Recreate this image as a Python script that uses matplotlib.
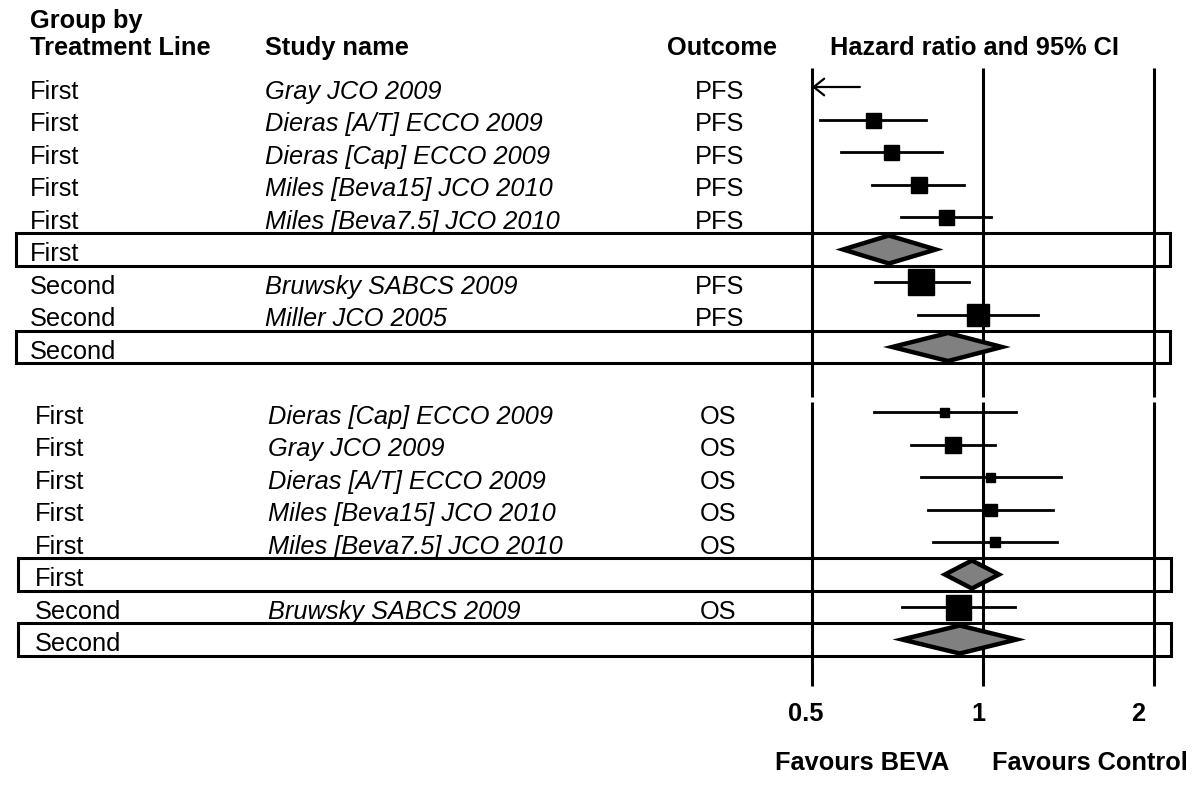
import matplotlib

matplotlib.use("Agg")
import matplotlib.pyplot as plt
from matplotlib.patches import Polygon, Rectangle
from matplotlib.transforms import blended_transform_factory

plt.rcParams["font.family"] = ["Liberation Sans", "DejaVu Sans"]

# one entry per row, top panel (PFS) then bottom panel (OS)
line = ["First", "First", "First", "First", "First", "First", "Second", "Second", "Second",
        "First", "First", "First", "First", "First", "First", "Second", "Second"]
study = ["Gray JCO 2009", "Dieras [A/T] ECCO 2009", "Dieras [Cap] ECCO 2009",
         "Miles [Beva15] JCO 2010", "Miles [Beva7.5] JCO 2010", "",
         "Bruwsky SABCS 2009", "Miller JCO 2005", "",
         "Dieras [Cap] ECCO 2009", "Gray JCO 2009", "Dieras [A/T] ECCO 2009",
         "Miles [Beva15] JCO 2010", "Miles [Beva7.5] JCO 2010", "",
         "Bruwsky SABCS 2009", ""]
outcome = ["PFS"] * 9 + ["OS"] * 8
hr = [0.46, 0.64, 0.69, 0.77, 0.86, 0.683, 0.778, 0.98, 0.868,
      0.854, 0.885, 1.03, 1.035, 1.05, 0.956, 0.904, 0.91]
lo = [0.33, 0.516, 0.562, 0.638, 0.717, 0.567, 0.646, 0.769, 0.692,
      0.643, 0.747, 0.778, 0.80, 0.816, 0.857, 0.72, 0.72]
hi = [0.607, 0.794, 0.847, 0.926, 1.033, 0.826, 0.944, 1.25, 1.08,
      1.143, 1.05, 1.37, 1.33, 1.35, 1.067, 1.138, 1.146]
weight = [15, 15, 15, 16, 15, 0, 26, 23, 0,
          9, 16, 9, 12, 10, 0, 25, 0]
summary = [False] * 5 + [True] + [False] * 2 + [True] + [False] * 5 + [True, False, True]

ticks = [0.5, 1, 2]
tick_labels = ["0.5", "1", "2"]

W, H = 1200, 791
PITCH = 32.5
X_HALF = 812
OCT = 171

fig = plt.figure(figsize=(12, 7.91), dpi=100)
ax = fig.add_axes([0, 0, 1, 1])
ax.set_xscale("log", base=2)
ax.set_xlim(0.5 * 2 ** (-X_HALF / OCT), 0.5 * 2 ** ((W - X_HALF) / OCT))
ax.set_ylim((H - 87) / PITCH, -87 / PITCH)
ax.axis("off")

fx = blended_transform_factory(fig.transFigure, ax.transData)
dx = blended_transform_factory(ax.transData, fig.transFigure)


def py(p):
    return (p - 87) / PITCH


# reference lines, one piece per panel
for y0, y1 in [(68, 397), (402, 686)]:
    ax.vlines(ticks, py(y0), py(y1), color="black", lw=2.2)

fs = 18.3
for i in range(len(line)):
    bottom = outcome[i] == "OS"
    y = i + (1 if bottom else 0)
    left = 35 if bottom else 30
    ax.text(left / W, y + 0.36, line[i], transform=fx, fontsize=fs, va="baseline")
    if study[i]:
        ax.text((268 if bottom else 265) / W, y + 0.36, study[i], transform=fx,
                fontsize=fs, style="italic", va="baseline")
        ax.text((718 if bottom else 720) / W, y + 0.36, outcome[i], transform=fx,
                fontsize=fs, ha="center", va="baseline")
    if summary[i]:
        x0 = 18 if bottom else 16
        x1 = 1171 if bottom else 1170
        ax.add_patch(Rectangle((x0 / W, y - 0.5), (x1 - x0) / W, 1.0, transform=fx,
                               fill=False, lw=2.2, ec="black", clip_on=False))
        h = 14 / PITCH
        ax.add_patch(Polygon([(lo[i], y), (hr[i], y - h), (hi[i], y), (hr[i], y + h)],
                             closed=True, fc="#808080", ec="black", lw=3.2, zorder=3))
    elif lo[i] < 0.5:
        ax.annotate("", xy=(0.5, y), xytext=(hi[i], y),
                    arrowprops=dict(arrowstyle="->,head_length=0.75,head_width=0.6",
                                    lw=1.6, color="black", shrinkA=0, shrinkB=0))
    else:
        ax.plot([lo[i], hi[i]], [y, y], color="black", lw=2.0, zorder=3)
        ax.plot(hr[i], y, marker="s", ms=weight[i] * 0.72, color="black", zorder=4)

hdr = dict(fontsize=fs, fontweight="bold", va="baseline")
fig.text(30 / W, 1 - 28 / H, "Group by", **hdr)
fig.text(30 / W, 1 - 55 / H, "Treatment Line", **hdr)
fig.text(265 / W, 1 - 55 / H, "Study name", **hdr)
fig.text(722 / W, 1 - 55 / H, "Outcome", ha="center", **hdr)
fig.text(975 / W, 1 - 55 / H, "Hazard ratio and 95% CI", ha="center", **hdr)

shifts = [-6, -5, -16]
for t, lab, s in zip(ticks, tick_labels, shifts):
    ax.annotate(lab, xy=(t, 1 - 714 / H), xycoords=dx, xytext=(s * 0.72, 0),
                textcoords="offset points", ha="center", va="center",
                fontsize=fs, fontweight="bold")
fig.text(862 / W, 1 - 763 / H, "Favours BEVA", ha="center", va="center",
         fontsize=fs, fontweight="bold")
fig.text(1090 / W, 1 - 763 / H, "Favours Control", ha="center", va="center",
         fontsize=fs, fontweight="bold")

fig.savefig("out.png", dpi=100, facecolor="white")
